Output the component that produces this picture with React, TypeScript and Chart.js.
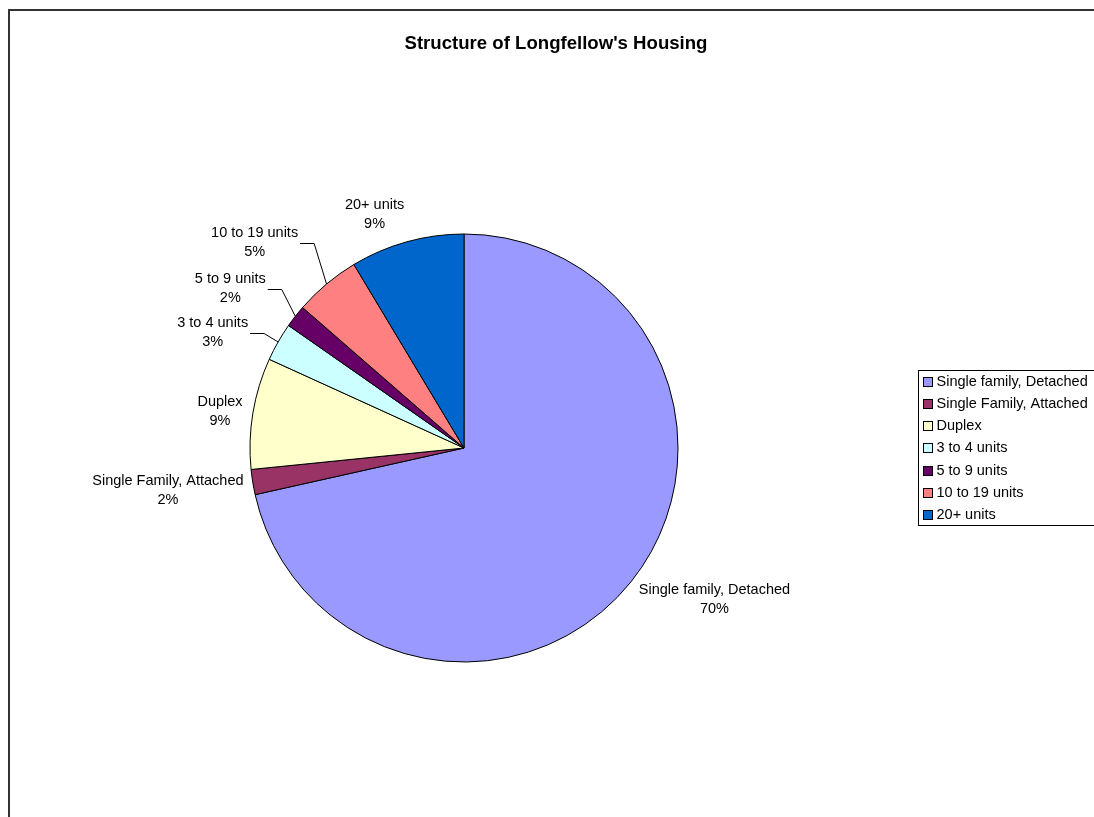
import React, { useEffect, useRef } from "react";
import { Chart, registerables } from "chart.js";

Chart.register(...registerables);

const chartTitle = "Structure of Longfellow's Housing";
const categories = [
  "Single family, Detached",
  "Single Family, Attached",
  "Duplex",
  "3 to 4 units",
  "5 to 9 units",
  "10 to 19 units",
  "20+ units",
];
const shares = [71.5, 1.9, 8.4, 2.9, 1.7, 5.0, 8.6];
const percentLabels = ["70%", "2%", "9%", "3%", "2%", "5%", "9%"];
const colors = ["#9999FF", "#993366", "#FFFFCC", "#CCFFFF", "#660066", "#FF8080", "#0066CC"];
// style: distance of each label from the rim (labels with larger gaps get leader lines)
const labelGap = [10, 10, 10, 27, 33.5, 39, 10];
// style: small angular nudge of each label (degrees)
const labelShift = [0, -1, -0.7, -3.3, -1.2, -1, 0];

const W = 1094;
const H = 817;
const FONT = '"Liberation Sans", Arial, sans-serif';

const decorPlugin = {
  id: "decor",
  afterDraw(chart: any) {
    const ctx = chart.ctx as CanvasRenderingContext2D;
    ctx.save();
    // outer chart border (extends beyond the view)
    ctx.strokeStyle = "#333";
    ctx.lineWidth = 2;
    ctx.strokeRect(9, 10, 1200, 1000);

    // title
    ctx.fillStyle = "#000";
    ctx.font = `bold 18.6px ${FONT}`;
    ctx.textAlign = "center";
    ctx.textBaseline = "alphabetic";
    ctx.fillText(chartTitle, 556, 48.5);

    // data labels
    const meta = chart.getDatasetMeta(0);
    ctx.font = `14.5px ${FONT}`;
    ctx.textBaseline = "middle";
    const halfH = 18.5;
    meta.data.forEach((arc: any, i: number) => {
      const p = arc.getProps(["x", "y", "startAngle", "endAngle", "outerRadius"], true);
      const mid = (p.startAngle + p.endAngle) / 2;
      const la = mid + (labelShift[i] * Math.PI) / 180;
      const dx = Math.cos(la);
      const dy = Math.sin(la);
      const gap = labelGap[i];
      const px = p.x + (p.outerRadius + gap) * dx;
      const py = p.y + (p.outerRadius + gap) * dy;
      const l1 = categories[i];
      const l2 = percentLabels[i];
      const w = Math.max(ctx.measureText(l1).width, ctx.measureText(l2).width);
      const halfW = w / 2;
      const sx = dx >= 0 ? 1 : -1;
      const cx = px + halfW * sx;
      const cy = py + halfH * dy;
      ctx.fillStyle = "#000";
      ctx.textAlign = "center";
      ctx.fillText(l1, cx, cy - 9.5);
      ctx.fillText(l2, cx, cy + 9.5);
      if (gap > 12) {
        const ax = p.x + p.outerRadius * Math.cos(mid);
        const ay = p.y + p.outerRadius * Math.sin(mid);
        const x0 = cx - sx * (halfW + 2);
        const x1 = x0 - sx * 14;
        ctx.beginPath();
        ctx.strokeStyle = "#000";
        ctx.lineWidth = 1;
        ctx.moveTo(x0, Math.round(cy) + 0.5);
        ctx.lineTo(x1, Math.round(cy) + 0.5);
        ctx.lineTo(ax, ay);
        ctx.stroke();
      }
    });

    // legend
    const lx = 918.5;
    const ly = 370.5;
    ctx.strokeStyle = "#000";
    ctx.lineWidth = 1;
    ctx.strokeRect(lx, ly, 300, 155);
    ctx.textAlign = "left";
    ctx.textBaseline = "middle";
    categories.forEach((c, i) => {
      const yc = 381 + i * 22.3;
      const top = Math.round(yc - 4.5) + 0.5;
      ctx.fillStyle = colors[i];
      ctx.fillRect(923.5, top, 9, 9);
      ctx.strokeStyle = "#000";
      ctx.strokeRect(923.5, top, 9, 9);
      ctx.fillStyle = "#000";
      ctx.fillText(c, 936.5, yc + 0.5);
    });
    ctx.restore();
  },
};

export default function App() {
  const ref = useRef<HTMLCanvasElement | null>(null);
  useEffect(() => {
    if (!ref.current) return;
    const chart = new Chart(ref.current, {
      type: "pie",
      data: {
        labels: categories,
        datasets: [
          {
            data: shares,
            backgroundColor: colors,
            borderColor: "#000",
            borderWidth: 1,
          },
        ],
      },
      options: {
        animation: false,
        responsive: false,
        devicePixelRatio: 1,
        layout: { padding: { left: 249.5, right: 415.5, top: 233.5, bottom: 154.5 } },
        plugins: {
          legend: { display: false },
          title: { display: false },
          tooltip: { enabled: false },
        },
      },
      plugins: [decorPlugin],
    } as any);
    return () => chart.destroy();
  }, []);
  return (
    <div style={{ position: "fixed", left: 0, top: 0, width: W, height: H, background: "#fff" }}>
      <canvas ref={ref} width={W} height={H} style={{ width: W, height: H, display: "block" }} />
    </div>
  );
}
